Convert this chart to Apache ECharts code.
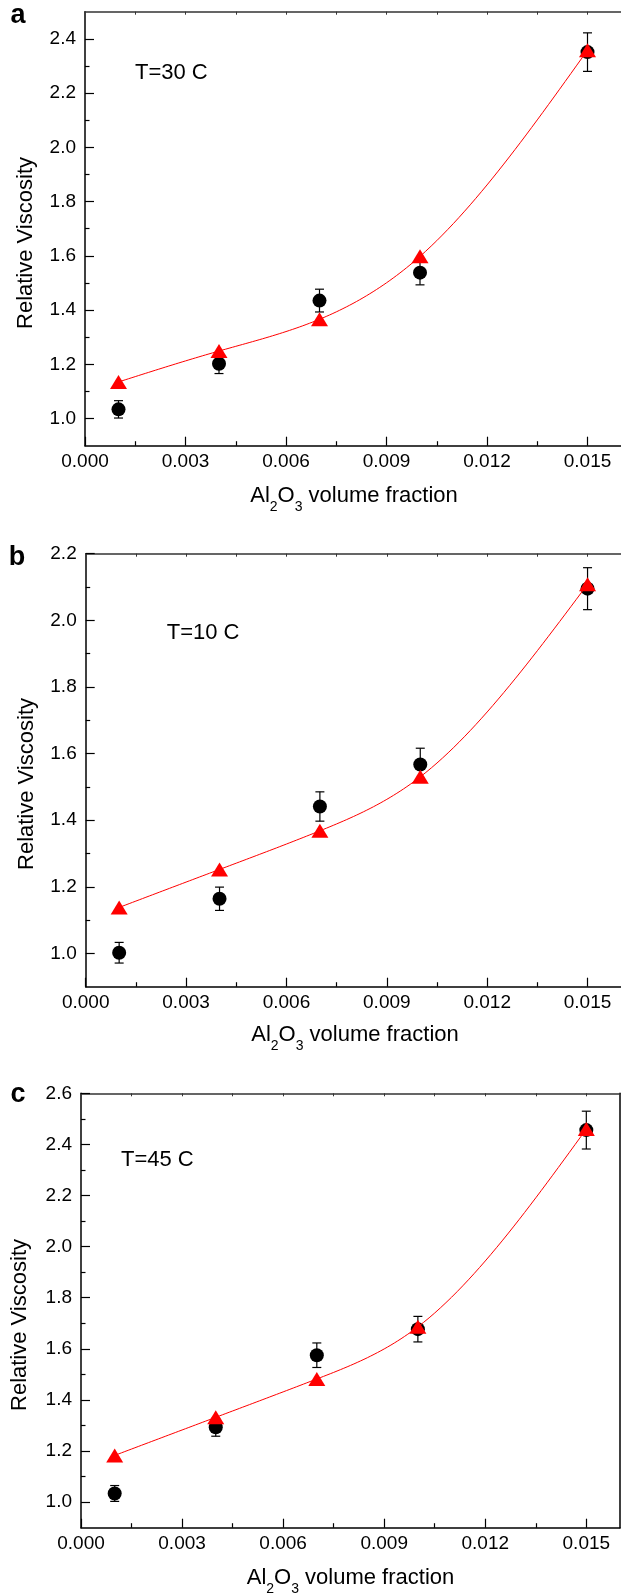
<!DOCTYPE html>
<html>
<head>
<meta charset="utf-8">
<script src="https://cdn.jsdelivr.net/npm/echarts@6/dist/echarts.min.js"></script>
<style>
html,body{margin:0;padding:0;background:#fff;}
#chart{width:621px;height:1596px;}
</style>
</head>
<body>
<div id="chart"></div>
<script>
// ---- data ----
const xVals = [0.001, 0.004, 0.007, 0.010, 0.015];

const expA = [1.034, 1.202, 1.435, 1.538, 2.351];
const errA = [0.032, 0.036, 0.042, 0.045, 0.071];
const modA = [1.135, 1.249, 1.366, 1.598, 2.358];

const expB = [1.002, 1.164, 1.441, 1.567, 2.095];
const errB = [0.031, 0.035, 0.044, 0.049, 0.063];
const modB = [1.138, 1.252, 1.368, 1.530, 2.108];

const expC = [1.034, 1.293, 1.575, 1.677, 2.456];
const errC = [0.031, 0.035, 0.048, 0.050, 0.074];
const modC = [1.183, 1.332, 1.482, 1.686, 2.460];

const xTickLabels = [0, 0.003, 0.006, 0.009, 0.012, 0.015];
const xMinorTicks = [0.0015, 0.0045, 0.0075, 0.0105, 0.0135];
const xTopTicks = [0.0015, 0.003, 0.0045, 0.006, 0.0075, 0.009, 0.0105, 0.012, 0.0135, 0.015];

const yTicksA = [1.0, 1.2, 1.4, 1.6, 1.8, 2.0, 2.2, 2.4];
const yMinorA = [1.1, 1.3, 1.5, 1.7, 1.9, 2.1, 2.3];
const yTicksB = [1.0, 1.2, 1.4, 1.6, 1.8, 2.0, 2.2];
const yMinorB = [1.1, 1.3, 1.5, 1.7, 1.9, 2.1];
const yTicksC = [1.0, 1.2, 1.4, 1.6, 1.8, 2.0, 2.2, 2.4, 2.6];
const yMinorC = [1.1, 1.3, 1.5, 1.7, 1.9, 2.1, 2.3, 2.5];

const panelLetters = ['a', 'b', 'c'];
const tempLabels = ['T=30 C', 'T=10 C', 'T=45 C'];
const yName = 'Relative Viscosity';

// natural cubic spline through the model points (curve rendering only)
function naturalSpline(xs, ys) {
  const n = xs.length, h = [], M = new Array(n).fill(0);
  for (let i = 0; i < n - 1; i++) h.push(xs[i+1] - xs[i]);
  const a = [], b = [], c = [], d = [];
  for (let i = 1; i < n - 1; i++) {
    a.push(h[i-1]); b.push(2*(h[i-1]+h[i])); c.push(h[i]);
    d.push(6*((ys[i+1]-ys[i])/h[i] - (ys[i]-ys[i-1])/h[i-1]));
  }
  const m = b.length;
  for (let i = 1; i < m; i++) { const w = a[i]/b[i-1]; b[i] -= w*c[i-1]; d[i] -= w*d[i-1]; }
  const sol = new Array(m);
  for (let i = m - 1; i >= 0; i--) sol[i] = (d[i] - (i < m-1 ? c[i]*sol[i+1] : 0)) / b[i];
  for (let i = 0; i < m; i++) M[i+1] = sol[i];
  return function (i, x) {
    const hi = h[i], x0 = xs[i], x1 = xs[i+1];
    return M[i]*Math.pow(x1-x,3)/(6*hi) + M[i+1]*Math.pow(x-x0,3)/(6*hi)
      + (ys[i]/hi - M[i]*hi/6)*(x1-x) + (ys[i+1]/hi - M[i+1]*hi/6)*(x-x0);
  };
}

// ---- layout ----
const FONT = "'Liberation Sans', Arial, Helvetica, sans-serif";
const panels = [
  {grid:{left:85, top:11.7, width:537, height:434}, ymin:0.9, ymax:2.5, yt:yTicksA, ym:yMinorA, exp:expA, err:errA, mod:modA,
   letter:[18,15.6], temp:[135,72.7], yname:[26,243], xname:[354,496.7], rightVisible:false},
  {grid:{left:85.7, top:553.7, width:536.3, height:433}, ymin:0.9, ymax:2.2, yt:yTicksB, ym:yMinorB, exp:expB, err:errB, mod:modB,
   letter:[17,557.3], temp:[166.7,632.7], yname:[26.5,784], xname:[355,1036], rightVisible:false},
  {grid:{left:81, top:1093.3, width:539, height:434.4}, ymin:0.9, ymax:2.6, yt:yTicksC, ym:yMinorC, exp:expC, err:errC, mod:modC,
   letter:[18,1094.3], temp:[121,1160], yname:[20,1325], xname:[350.5,1578.7], rightVisible:true}
];

const grids = [], xAxes = [], yAxes = [], series = [], graphics = [];
const lineStyle = {color:'#000', width:1.5};

panels.forEach((p, k) => {
  grids.push(Object.assign({containLabel:false}, p.grid));
  const base = {type:'value', gridIndex:k, min:0, max:0.016, splitLine:{show:false}};
  xAxes.push(Object.assign({}, base, {
    position:'bottom',
    axisLine:{show:true, onZero:false, lineStyle:lineStyle},
    axisTick:{show:true, inside:true, length:9, customValues:xTickLabels, lineStyle:{color:'#000', width:1.2}},
    axisLabel:{show:true, customValues:xTickLabels, margin:7, color:'#000', fontSize:19, fontFamily:FONT,
      formatter:v => v.toFixed(3)}
  }));
  xAxes.push(Object.assign({}, base, {
    position:'bottom',
    axisLine:{show:false, onZero:false},
    axisTick:{show:true, inside:true, length:4.5, customValues:xMinorTicks, lineStyle:{color:'#000', width:1.2}},
    axisLabel:{show:false}
  }));
  xAxes.push(Object.assign({}, base, {
    position:'top',
    axisLine:{show:true, onZero:false, lineStyle:{color:'#333', width:1.5}},
    axisTick:{show:true, inside:true, length:3, customValues:xTopTicks, lineStyle:{color:'#333', width:1}},
    axisLabel:{show:false}
  }));
  const ybase = {type:'value', gridIndex:k, min:p.ymin, max:p.ymax, splitLine:{show:false}};
  yAxes.push(Object.assign({}, ybase, {
    position:'left',
    axisLine:{show:true, onZero:false, lineStyle:lineStyle},
    axisTick:{show:true, inside:true, length:9, customValues:p.yt, lineStyle:{color:'#000', width:1.2}},
    axisLabel:{show:true, customValues:p.yt, margin:9, color:'#000', fontSize:19, fontFamily:FONT,
      formatter:v => v.toFixed(1)}
  }));
  yAxes.push(Object.assign({}, ybase, {
    position:'left',
    axisLine:{show:false, onZero:false},
    axisTick:{show:true, inside:true, length:4.5, customValues:p.ym, lineStyle:{color:'#000', width:1.2}},
    axisLabel:{show:false}
  }));
  yAxes.push(Object.assign({}, ybase, {
    position:'right',
    axisLine:{show:p.rightVisible, onZero:false, lineStyle:lineStyle},
    axisTick:{show:false},
    axisLabel:{show:false}
  }));

  const xi = 3*k, yi = 3*k;
  series.push({
    type:'scatter', xAxisIndex:xi, yAxisIndex:yi, symbol:'circle', symbolSize:14,
    itemStyle:{color:'#000', opacity:1}, z:2,
    data:xVals.map((x,i)=>[x, p.exp[i]])
  });
  series.push({
    type:'custom', xAxisIndex:xi, yAxisIndex:yi, z:3,
    data:xVals.map((x,i)=>[x, p.exp[i]-p.err[i], p.exp[i]+p.err[i]]),
    encode:{x:0, y:[1,2]},
    renderItem:(params, api) => {
      const x = api.value(0), lo = api.value(1), hi = api.value(2);
      const a = api.coord([x, hi]), b = api.coord([x, lo]);
      const st = {stroke:'#000', lineWidth:1.2};
      return {type:'group', children:[
        {type:'line', shape:{x1:a[0], y1:a[1], x2:b[0], y2:b[1]}, style:st},
        {type:'line', shape:{x1:a[0]-4.5, y1:a[1], x2:a[0]+4.5, y2:a[1]}, style:st},
        {type:'line', shape:{x1:b[0]-4.5, y1:b[1], x2:b[0]+4.5, y2:b[1]}, style:st}
      ]};
    }
  });
  // smooth model curve (spline through model points)
  const S = naturalSpline(xVals, p.mod);
  series.push({
    type:'custom', xAxisIndex:xi, yAxisIndex:yi, z:4,
    data:xVals.map((x,i)=>[x, p.mod[i]]),
    encode:{x:0, y:1},
    renderItem:(params, api) => {
      const i = params.dataIndex;
      if (i >= xVals.length - 1) return null;
      const pts = [];
      const N = 30;
      for (let j = 0; j <= N; j++) {
        const x = xVals[i] + (xVals[i+1]-xVals[i])*j/N;
        pts.push(api.coord([x, S(i, x)]));
      }
      return {type:'polyline', shape:{points:pts}, style:{stroke:'#ff0000', lineWidth:1, fill:null}};
    }
  });
  // model triangles
  series.push({
    type:'scatter', xAxisIndex:xi, yAxisIndex:yi, z:5,
    symbol:'triangle', symbolSize:[17,14],
    itemStyle:{color:'#ff0000', opacity:1},
    data:xVals.map((x,i)=>[x, p.mod[i]])
  });

  graphics.push({type:'text', x:p.letter[0], y:p.letter[1], z:10,
    style:{text:panelLetters[k], font:'bold 27px ' + FONT, fill:'#000', textAlign:'center', textVerticalAlign:'middle'}});
  graphics.push({type:'text', x:p.temp[0], y:p.temp[1], z:10,
    style:{text:tempLabels[k], font:'22px ' + FONT, fill:'#000', textAlign:'left', textVerticalAlign:'middle'}});
  graphics.push({type:'text', x:p.yname[0], y:p.yname[1], rotation:Math.PI/2, z:10,
    style:{text:yName, font:'22px ' + FONT, fill:'#000', textAlign:'center', textVerticalAlign:'middle'}});
  graphics.push({type:'text', x:p.xname[0], y:p.xname[1], z:10,
    style:{text:'{n|Al}{s|2}{n|O}{s|3}{n| volume fraction}', fill:'#000', textAlign:'center', textVerticalAlign:'middle',
      rich:{
        n:{fontSize:22, fontFamily:FONT, lineHeight:24, verticalAlign:'top', fill:'#000'},
        s:{fontSize:14, fontFamily:FONT, lineHeight:14, padding:[15,0,0,0], verticalAlign:'top', fill:'#000'}
      }}});
});

const chart = echarts.init(document.getElementById('chart'), null, {renderer:'canvas'});
chart.setOption({
  animation:false,
  backgroundColor:'#fff',
  grid:grids,
  xAxis:xAxes,
  yAxis:yAxes,
  series:series,
  graphic:graphics
});
</script>
</body>
</html>
